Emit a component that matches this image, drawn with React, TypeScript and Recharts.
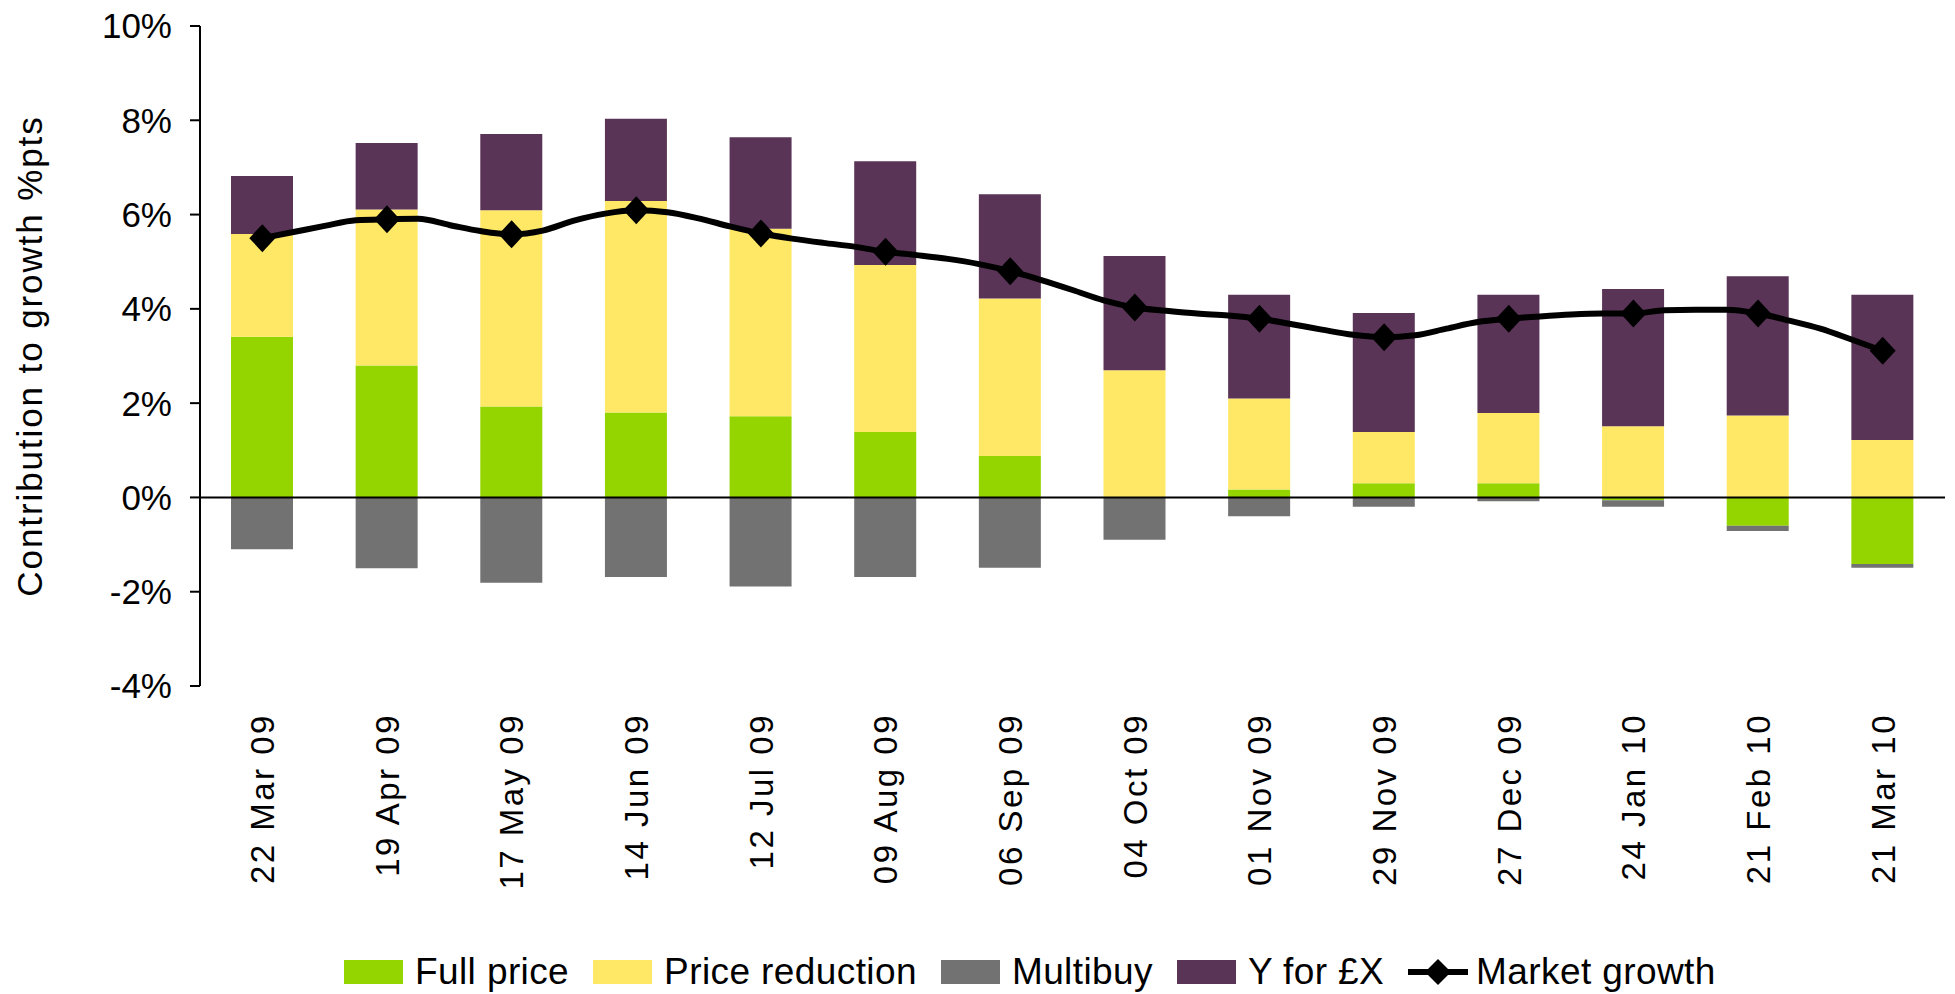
import React from 'react';
import {
  ComposedChart,
  Bar,
  Line,
  XAxis,
  YAxis,
  ReferenceLine,
} from 'recharts';

// 4-weekly periods shown on the axis
const periods = [
  '22 Mar 09', '19 Apr 09', '17 May 09', '14 Jun 09', '12 Jul 09', '09 Aug 09', '06 Sep 09',
  '04 Oct 09', '01 Nov 09', '29 Nov 09', '27 Dec 09', '24 Jan 10', '21 Feb 10', '21 Mar 10',
];

// contribution to growth, % pts
const fullPrice = [3.41, 2.8, 1.93, 1.8, 1.72, 1.39, 0.88, 0, 0.17, 0.3, 0.3, -0.06, -0.6, -1.41];
const priceReduction = [2.18, 3.31, 4.16, 4.49, 3.98, 3.54, 3.34, 2.7, 1.93, 1.09, 1.49, 1.51, 1.74, 1.22];
const multibuy = [-1.1, -1.5, -1.81, -1.69, -1.89, -1.69, -1.49, -0.9, -0.4, -0.2, -0.08, -0.14, -0.11, -0.08];
const yForX = [1.23, 1.41, 1.62, 1.74, 1.94, 2.2, 2.21, 2.42, 2.2, 2.52, 2.51, 2.91, 2.95, 3.08];

// market growth is weekly, markers on the 4-weekly points
const marketGrowth = [
  5.5, 5.63, 5.76, 5.88,
  5.9, 5.91, 5.78, 5.65,
  5.58, 5.66, 5.87, 6.02,
  6.09, 6.05, 5.92, 5.75,
  5.6, 5.49, 5.4, 5.32,
  5.21, 5.14, 5.06, 4.95,
  4.8, 4.61, 4.4, 4.18,
  4.03, 3.96, 3.9, 3.86,
  3.79, 3.68, 3.56, 3.45,
  3.4, 3.44, 3.58, 3.72,
  3.79, 3.84, 3.88, 3.9,
  3.9, 3.97, 3.98, 3.98,
  3.9, 3.75, 3.58, 3.35,
  3.11,
];

const yTicks = [-4, -2, 0, 2, 4, 6, 8, 10];

const COLORS = {
  full: '#94d500',
  reduction: '#ffe866',
  multibuy: '#727272',
  yfor: '#5a3457',
};

const FONT = '"Liberation Sans", Arial, sans-serif';

const barData = periods.map((period, i) => ({
  period,
  fullPrice: fullPrice[i],
  priceReduction: priceReduction[i],
  multibuy: multibuy[i],
  yForX: yForX[i],
}));

const lineData = marketGrowth.map((v, i) => ({ week: i / 4, growth: v, marker: i % 4 === 0 }));

const XTick = (props: any) => {
  const { x, y, payload } = props;
  return (
    <text
      x={x}
      y={y}
      transform={`rotate(-90, ${x}, ${y})`}
      textAnchor="end"
      dy="0.36em"
      fontSize={33}
      letterSpacing={2.5}
      fontFamily={FONT}
      fill="#000"
    >
      {payload.value}
    </text>
  );
};

const Diamond = (props: any) => {
  const { cx, cy, payload, index } = props;
  if (!payload || !payload.marker) return <g key={`d${index}`} />;
  return (
    <path
      key={`d${index}`}
      d={`M${cx},${cy - 14} L${cx + 13},${cy} L${cx},${cy + 14} L${cx - 13},${cy} Z`}
      fill="#000"
    />
  );
};

const legendItems = [
  { name: 'Full price', color: COLORS.full },
  { name: 'Price reduction', color: COLORS.reduction },
  { name: 'Multibuy', color: COLORS.multibuy },
  { name: 'Y for £X', color: COLORS.yfor },
];

const ChartLegend = () => (
  <div
    style={{
      position: 'absolute',
      left: 336,
      top: 950,
      display: 'flex',
      alignItems: 'center',
      fontFamily: FONT,
      fontSize: 37,
      letterSpacing: 0.4,
      color: '#000',
      whiteSpace: 'nowrap',
      lineHeight: '44px',
    }}
  >
    {legendItems.map((it) => (
      <div key={it.name} style={{ display: 'flex', alignItems: 'center', marginRight: 24 }}>
        <span style={{ width: 59, height: 24, background: it.color, display: 'inline-block', marginRight: 12 }} />
        <span>{it.name}</span>
      </div>
    ))}
    <div style={{ display: 'flex', alignItems: 'center' }}>
      <svg width={60} height={30} style={{ marginRight: 8 }}>
        <line x1={0} y1={15} x2={60} y2={15} stroke="#000" strokeWidth={6} />
        <path d="M30,2 L43,15 L30,28 L17,15 Z" fill="#000" />
      </svg>
      <span>Market growth</span>
    </div>
  </div>
);

export default function App() {
  return (
    <div style={{ position: 'relative', width: 1947, height: 994, marginTop: -8 }}>
      <ComposedChart
        width={1947}
        height={994}
        data={barData}
        stackOffset="sign"
        margin={{ top: 26, right: 10, left: 0, bottom: 108 }}
      >
        <XAxis
          xAxisId="cat"
          dataKey="period"
          height={200}
          axisLine={false}
          tickLine={false}
          tickSize={0}
          tickMargin={27}
          interval={0}
          tick={<XTick />}
        />
        <XAxis xAxisId="wk" type="number" dataKey="week" domain={[-0.5, 13.5]} allowDataOverflow hide />
        <YAxis
          domain={[-4, 10]}
          ticks={yTicks}
          interval={0}
          width={192}
          tickSize={10}
          tickMargin={18}
          tickFormatter={(v) => `${v}%`}
          axisLine={{ stroke: '#000', strokeWidth: 2 }}
          tickLine={{ stroke: '#000', strokeWidth: 2 }}
          tick={{ fill: '#000', fontSize: 35, fontFamily: FONT }}
          label={{
            value: 'Contribution to growth %pts',
            angle: -90,
            position: 'center',
            dx: -74,
            fill: '#000',
            fontSize: 35,
            fontFamily: FONT,
            letterSpacing: 1.9,
          }}
        />
        <Bar xAxisId="cat" dataKey="fullPrice" stackId="a" fill={COLORS.full} barSize={62} isAnimationActive={false} />
        <Bar xAxisId="cat" dataKey="priceReduction" stackId="a" fill={COLORS.reduction} barSize={62} isAnimationActive={false} />
        <Bar xAxisId="cat" dataKey="multibuy" stackId="a" fill={COLORS.multibuy} barSize={62} isAnimationActive={false} />
        <Bar xAxisId="cat" dataKey="yForX" stackId="a" fill={COLORS.yfor} barSize={62} isAnimationActive={false} />
        <ReferenceLine xAxisId="cat" y={0} stroke="#000" strokeWidth={2} />
        <Line
          xAxisId="wk"
          data={lineData}
          dataKey="growth"
          type="monotone"
          stroke="#000"
          strokeWidth={6}
          dot={Diamond}
          activeDot={false}
          isAnimationActive={false}
        />
      </ComposedChart>
      <ChartLegend />
    </div>
  );
}
